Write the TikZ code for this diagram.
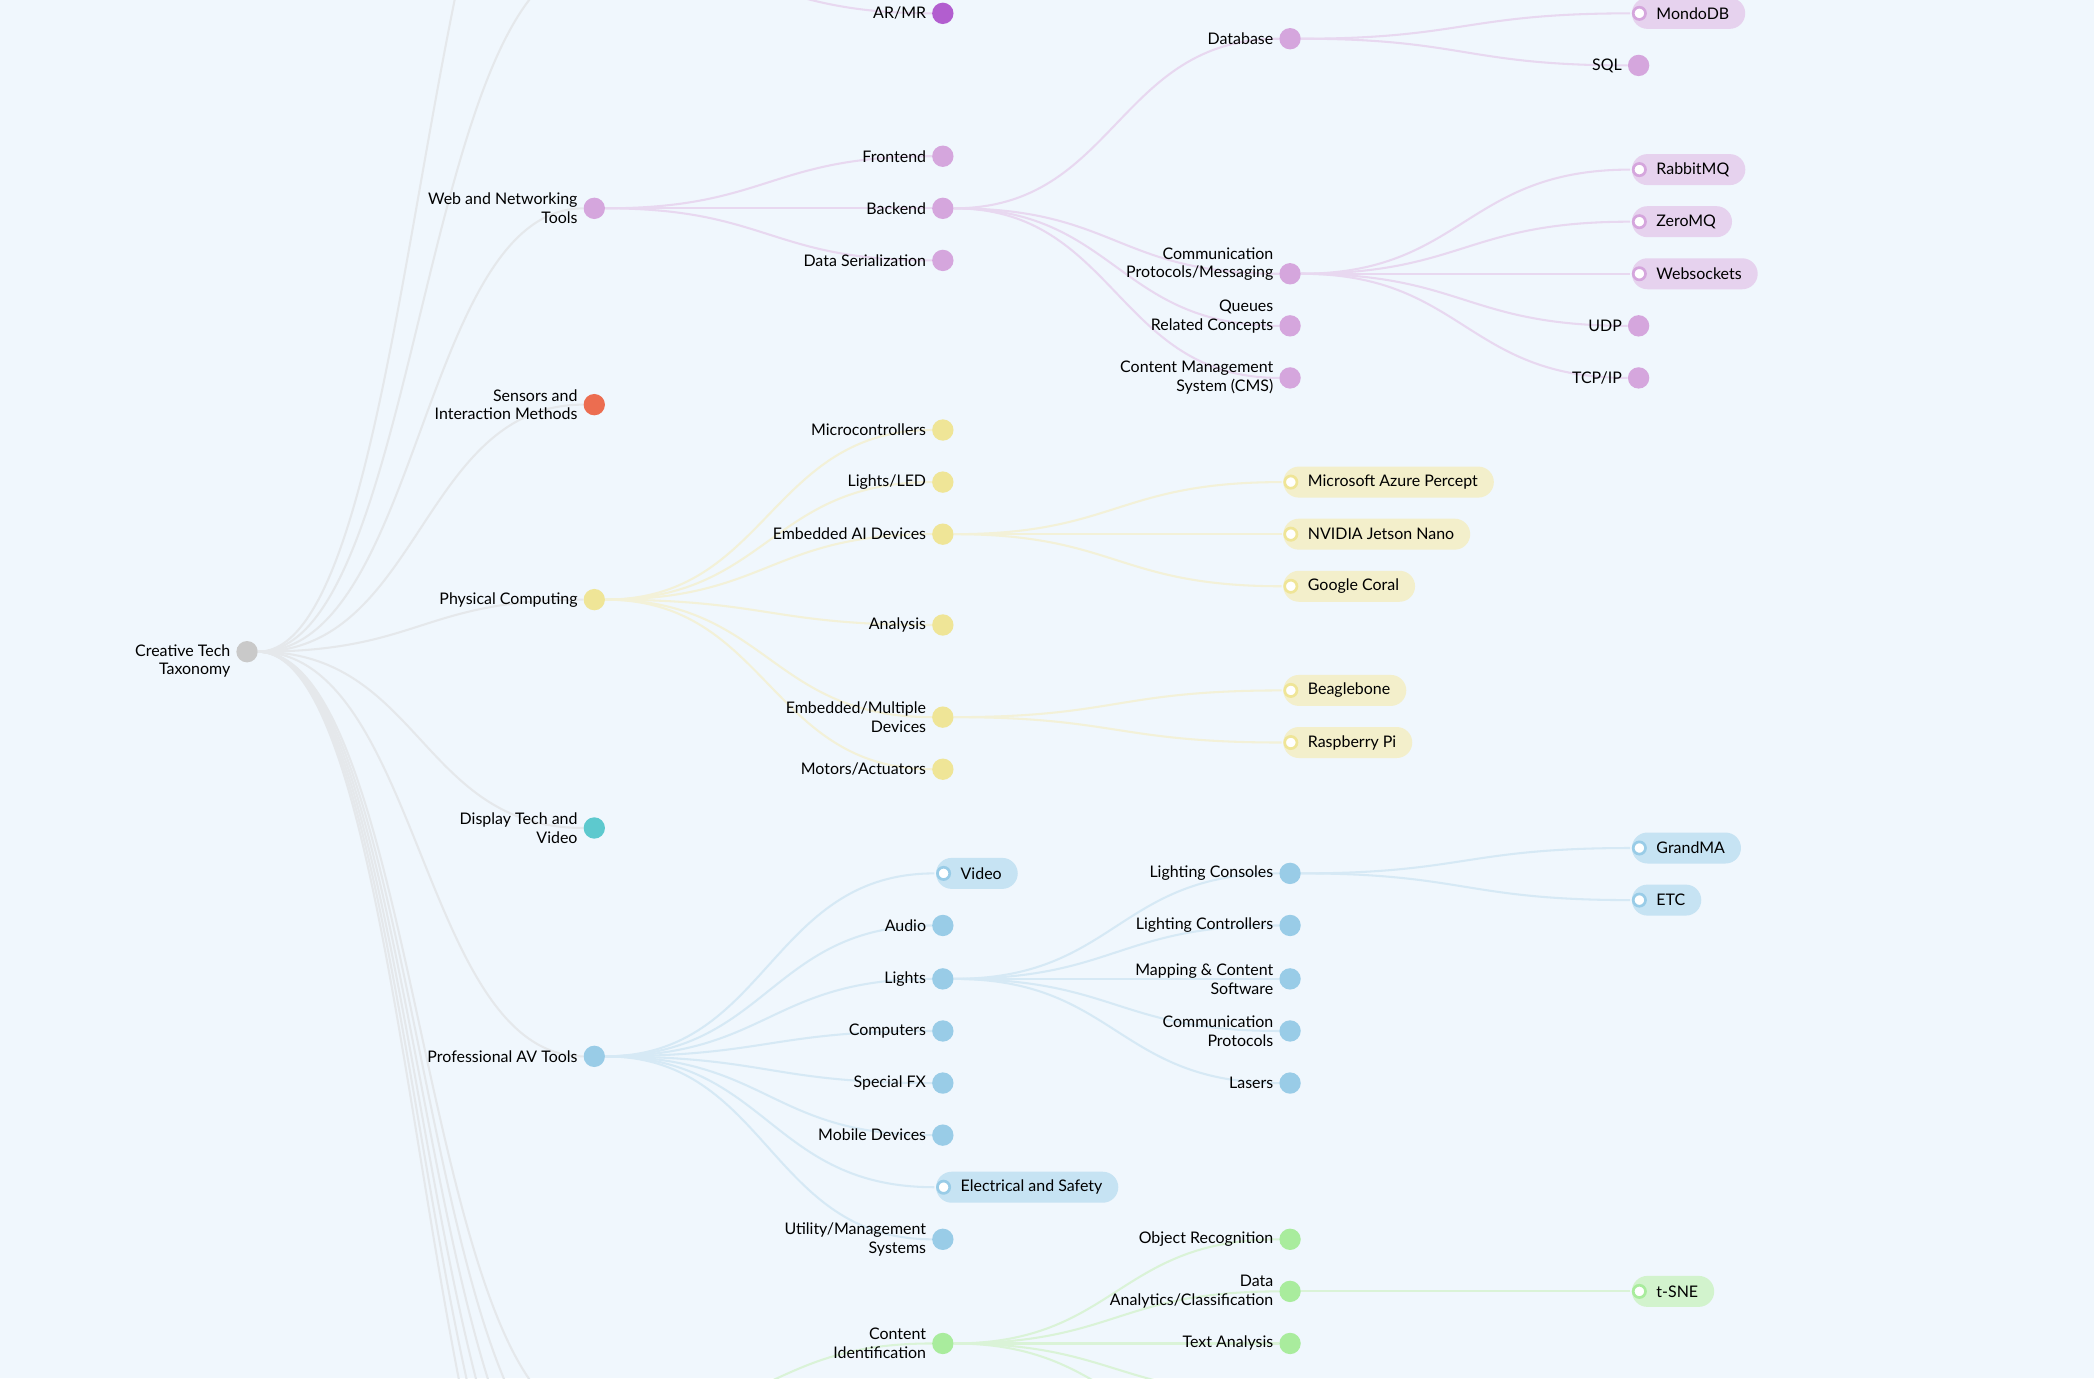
\documentclass[tikz,border=0pt]{standalone}
\usepackage{fontspec}
\setmainfont{Lato}
\usetikzlibrary{backgrounds}

\definecolor{bgc}{HTML}{F0F7FD}
\definecolor{dotG}{HTML}{C9C9C9}
\definecolor{lnkG}{HTML}{E5E8EB}
\definecolor{dotA}{HTML}{B25ECF}
\definecolor{dotP}{HTML}{D5A6DD}
\definecolor{lnkP}{HTML}{E8D8F0}
\definecolor{pilP}{HTML}{E6D2EE}
\definecolor{dotR}{HTML}{EC6D50}
\definecolor{dotY}{HTML}{EFE597}
\definecolor{lnkY}{HTML}{F3F1D8}
\definecolor{pilY}{HTML}{F3EFCB}
\definecolor{dotT}{HTML}{5DC9CE}
\definecolor{dotB}{HTML}{99CCE7}
\definecolor{lnkB}{HTML}{D6E9F5}
\definecolor{pilB}{HTML}{C6E3F3}
\definecolor{dotV}{HTML}{A9EC9D}
\definecolor{lnkV}{HTML}{DAF3D7}
\definecolor{pilV}{HTML}{D2F3CD}

\begin{document}
\begin{tikzpicture}[
		x=0.25mm, y=-0.25mm,
		link/.style = {draw=#1, line width=1.1pt},
		lbl/.style = {font=\fontsize{8.5}{10}\selectfont, align=right,
			inner sep=0.5mm, xshift=-0.5mm},
		dot/.style = {circle, fill=#1, minimum size=4mm, inner sep=0pt},
		vrtx/.style 2 args = {dot=#1, label={[lbl]left:#2}},
		vrtx up/.style 2 args = {dot=#1, label={[lbl, yshift=1.8mm]left:#2}},
		vrtx down/.style 2 args = {dot=#1, label={[lbl, yshift=-1.75mm]left:#2}},
		pillbox/.style 2 args = {%
			fill=#2, rounded corners=2.9mm, minimum height=5.8mm,
			inner xsep=3mm, xshift=-2.9mm, font=\fontsize{8.5}{10}\selectfont,
			execute at begin node={\hspace*{1.6mm}},
			path picture={\draw[#1, line width=0.5mm, fill=white]
				([xshift=1.4mm]path picture bounding box.west) circle (1.15mm);}},
		leaf/.style n args = {3}{%
			circle, minimum size=3mm, inner sep=0pt,
			label={[pillbox={#1}{#2}]right:#3}}
		]
		\useasboundingbox (0,0) rectangle (1568,1032);
		\node (root) [vrtx down={dotG}{Creative Tech\\Taxonomy}] at (185,488) {};
		\coordinate (xr) at (445,-29);
		\coordinate (top) at (445,-225);
		\coordinate (ml) at (445,1065);
		\coordinate (bot1) at (445,1104);
		\coordinate (bot2) at (445,1143);
		\coordinate (bot3) at (445,1182);
		\coordinate (bot4) at (445,1221);
		\coordinate (bot5) at (445,1260);
		\coordinate (ci1) at (966,1045);
		\coordinate (ci2) at (966,1084);
		\node (web) [vrtx={dotP}{Web and Networking\\Tools}] at (445,156) {};
		\node (sens) [vrtx={dotR}{Sensors and\\Interaction Methods}] at (445,303) {};
		\node (phys) [vrtx={dotY}{Physical Computing}] at (445,449) {};
		\node (disp) [vrtx={dotT}{Display Tech and\\Video}] at (445,620) {};
		\node (pav) [vrtx={dotB}{Professional AV Tools}] at (445,791) {};
		\node (armr) [vrtx={dotA}{AR/MR}] at (706,10) {};
		\node (front) [vrtx={dotP}{Frontend}] at (706,117) {};
		\node (back) [vrtx={dotP}{Backend}] at (706,156) {};
		\node (ser) [vrtx={dotP}{Data Serialization}] at (706,195) {};
		\node (micro) [vrtx={dotY}{Microcontrollers}] at (706,322) {};
		\node (led) [vrtx={dotY}{Lights/LED}] at (706,361) {};
		\node (eai) [vrtx={dotY}{Embedded AI Devices}] at (706,400) {};
		\node (anal) [vrtx={dotY}{Analysis}] at (706,468) {};
		\node (emb) [vrtx={dotY}{Embedded/Multiple\\Devices}] at (706,537) {};
		\node (motor) [vrtx={dotY}{Motors/Actuators}] at (706,576) {};
		\node (video) [leaf={dotB}{pilB}{Video}] at (706,654) {};
		\node (audio) [vrtx={dotB}{Audio}] at (706,693) {};
		\node (lights) [vrtx={dotB}{Lights}] at (706,733) {};
		\node (comp) [vrtx={dotB}{Computers}] at (706,772) {};
		\node (sfx) [vrtx={dotB}{Special FX}] at (706,811) {};
		\node (mob) [vrtx={dotB}{Mobile Devices}] at (706,850) {};
		\node (elec) [leaf={dotB}{pilB}{Electrical and Safety}] at (706,889) {};
		\node (util) [vrtx={dotB}{Utility/Management\\Systems}] at (706,928) {};
		\node (ci) [vrtx={dotV}{Content\\Identification}] at (706,1006) {};
		\node (db) [vrtx={dotP}{Database}] at (966,29) {};
		\node (comm) [vrtx up={dotP}{Communication\\Protocols/Messaging}] at (966,205) {};
		\node (queue) [vrtx up={dotP}{Queues\\Related Concepts}] at (966,244) {};
		\node (cms) [vrtx={dotP}{Content Management\\System (CMS)}] at (966,283) {};
		\node (azure) [leaf={dotY}{pilY}{Microsoft Azure Percept}] at (966,361) {};
		\node (nano) [leaf={dotY}{pilY}{NVIDIA Jetson Nano}] at (966,400) {};
		\node (coral) [leaf={dotY}{pilY}{Google Coral}] at (966,439) {};
		\node (beagle) [leaf={dotY}{pilY}{Beaglebone}] at (966,517) {};
		\node (rpi) [leaf={dotY}{pilY}{Raspberry Pi}] at (966,556) {};
		\node (cons) [vrtx={dotB}{Lighting Consoles}] at (966,654) {};
		\node (ctrl) [vrtx={dotB}{Lighting Controllers}] at (966,693) {};
		\node (map) [vrtx={dotB}{Mapping \& Content\\Software}] at (966,733) {};
		\node (proto) [vrtx={dotB}{Communication\\Protocols}] at (966,772) {};
		\node (laser) [vrtx={dotB}{Lasers}] at (966,811) {};
		\node (obj) [vrtx={dotV}{Object Recognition}] at (966,928) {};
		\node (dana) [vrtx={dotV}{Data\\Analytics/Classification}] at (966,967) {};
		\node (txt) [vrtx={dotV}{Text Analysis}] at (966,1006) {};
		\node (mongo) [leaf={dotP}{pilP}{MondoDB}] at (1227,10) {};
		\node (sql) [vrtx={dotP}{SQL}] at (1227,49) {};
		\node (rabbit) [leaf={dotP}{pilP}{RabbitMQ}] at (1227,127) {};
		\node (zero) [leaf={dotP}{pilP}{ZeroMQ}] at (1227,166) {};
		\node (wsock) [leaf={dotP}{pilP}{Websockets}] at (1227,205) {};
		\node (udp) [vrtx={dotP}{UDP}] at (1227,244) {};
		\node (tcp) [vrtx={dotP}{TCP/IP}] at (1227,283) {};
		\node (grand) [leaf={dotB}{pilB}{GrandMA}] at (1227,635) {};
		\node (etc) [leaf={dotB}{pilB}{ETC}] at (1227,674) {};
		\node (tsne) [leaf={dotV}{pilV}{t-SNE}] at (1227,967) {};
		\begin{pgfonlayer}{background}
		\fill[bgc] (0,0) rectangle (1568,1032);
		\foreach \from/\to/\c in {root/top/lnkG, root/xr/lnkG, root/web/lnkG, root/sens/lnkG,
				root/phys/lnkG, root/disp/lnkG, root/pav/lnkG, root/ml/lnkG, root/bot1/lnkG,
				root/bot2/lnkG, root/bot3/lnkG, root/bot4/lnkG, root/bot5/lnkG,
				xr/armr/lnkP, web/front/lnkP, web/back/lnkP, web/ser/lnkP, back/db/lnkP,
				back/comm/lnkP, back/queue/lnkP, back/cms/lnkP, db/mongo/lnkP, db/sql/lnkP,
				comm/rabbit/lnkP, comm/zero/lnkP, comm/wsock/lnkP, comm/udp/lnkP, comm/tcp/lnkP,
				phys/micro/lnkY, phys/led/lnkY, phys/eai/lnkY, phys/anal/lnkY, phys/emb/lnkY,
				phys/motor/lnkY, eai/azure/lnkY, eai/nano/lnkY, eai/coral/lnkY,
				emb/beagle/lnkY, emb/rpi/lnkY,
				pav/video/lnkB, pav/audio/lnkB, pav/lights/lnkB, pav/comp/lnkB, pav/sfx/lnkB,
				pav/mob/lnkB, pav/elec/lnkB, pav/util/lnkB, lights/cons/lnkB, lights/ctrl/lnkB,
				lights/map/lnkB, lights/proto/lnkB, lights/laser/lnkB, cons/grand/lnkB, cons/etc/lnkB,
				ml/ci/lnkV, ci/obj/lnkV, ci/dana/lnkV, ci/txt/lnkV, ci/ci1/lnkV, ci/ci2/lnkV,
				dana/tsne/lnkV}
		\draw[link=\c] (\from) .. controls +(130,0) and +(-130,0) .. (\to);
		\end{pgfonlayer}
	\end{tikzpicture}
\end{document}
